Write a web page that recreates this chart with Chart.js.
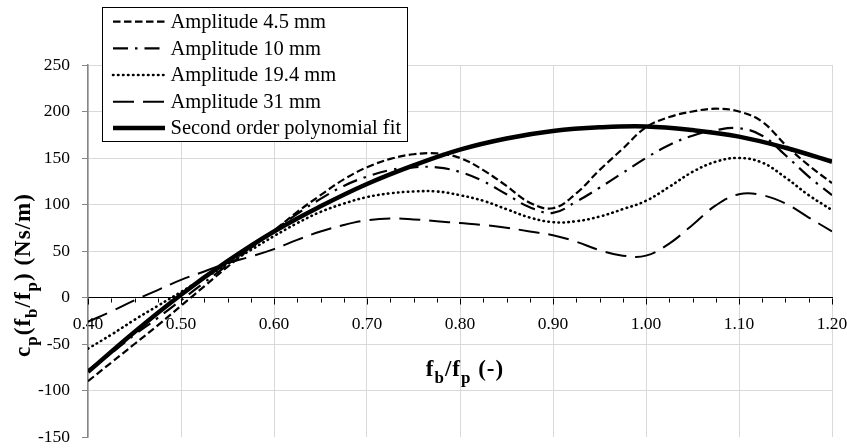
<!DOCTYPE html>
<html><head><meta charset="utf-8">
<script src="https://cdn.jsdelivr.net/npm/chart.js@4/dist/chart.umd.min.js"></script>
<style>html,body{margin:0;padding:0;background:#fff;} canvas{display:block;}</style>
</head><body>
<canvas id="c" width="847" height="448"></canvas>
<script>
// ---- data ----
const xAmp = [0.400,0.425,0.450,0.475,0.500,0.525,0.550,0.575,0.600,0.625,0.650,0.675,0.700,0.725,0.750,0.775,0.800,0.825,0.850,0.875,0.900,0.925,0.950,0.975,1.000,1.025,1.050,1.075,1.100,1.125,1.150,1.175,1.200];
const amp45  = [-90,-70,-50,-30,-9,12,33,53,72,92,110,127,140,149,154,155,150,137,120,102,96,112,137,160,183,194,200,203,200,189,164,142,123];
const amp10  = [-78,-60,-40,-22,-3,16,35,54,72,90,106,120,130,137,140,140,135,125,111,97,91,103,118,134,150,164,174,180,182,174,153,130,110];
const amp194 = [-55,-40,-24,-9,6,21,36,51,66,80,92,101,108,112,114,114,110,104,95,86,81,82,87,95,104,119,135,146,150,145,129,110,94];
const amp31  = [-26,-15,-3,8,19,28,37,44,52,62,71,78,83,85,84,82,80,78,75,71,67,60,51,45,45,58,78,99,111,110,101,86,71];
const xFit = [0.40,0.45,0.50,0.55,0.60,0.65,0.70,0.75,0.80,0.85,0.90,0.95,1.00,1.05,1.10,1.15,1.20];
const fit  = [-80,-37,3,39,71,98,122,142,159,171,179,183,184,180,173,161,146];
const seriesNames = ['Amplitude 4.5 mm','Amplitude 10 mm','Amplitude 19.4 mm','Amplitude 31 mm','Second order polynomial fit'];
const xMin = 0.4, xMax = 1.2, xStep = 0.1, xMinorStep = 0.025;
const yMin = -150, yMax = 250, yStep = 50;

// ---- styles ----
const SERIF = '"Liberation Serif", "DejaVu Serif", serif';
const styles = [
  {dash:[7.5,3.5], width:2.2, cap:'butt'},
  {dash:[15,7,2.5,7], width:2.2, cap:'butt'},
  {dash:[0.5,4.5], width:2.6, cap:'round'},
  {dash:[21,9], width:2, cap:'butt'},
  {dash:[], width:4.5, cap:'butt'}
];
const toPts = (xs, ys) => xs.map((x,i)=>({x:x, y:ys[i]}));
const seriesData = [toPts(xAmp,amp45), toPts(xAmp,amp10), toPts(xAmp,amp194), toPts(xAmp,amp31), toPts(xFit,fit)];

const datasets = seriesData.map((d,i)=>({
  label: seriesNames[i], data: d,
  borderColor:'#000', backgroundColor:'#000',
  borderWidth: styles[i].width, borderDash: styles[i].dash, borderCapStyle: styles[i].cap,
  pointRadius:0, tension:0.4, fill:false
}));

function richText(ctx, parts, size, bold, spacing) {
  const setF = (sub)=>{ ctx.font = (bold?'bold ':'') + (sub? Math.round(size*0.72):size) + 'px ' + SERIF; ctx.letterSpacing = spacing + 'px'; };
  const w = (t,sub)=>{ setF(sub); return ctx.measureText(t).width; };
  let total = 0; parts.forEach(p=> total += w(p[0],p[1]));
  return {total, draw:(x0,y0)=>{ let x=x0; parts.forEach(p=>{ const ww=w(p[0],p[1]); ctx.fillText(p[0], x, y0 + (p[1]? size*0.3:0)); x+=ww; }); }};
}

const decor = {
  id:'decor',
  afterDraw(chart){
    const ctx = chart.ctx, xs = chart.scales.x, ys = chart.scales.y;
    ctx.save();
    // minor/major ticks on x axis (axis crosses at y=0)
    const y0 = Math.round(ys.getPixelForValue(0)) + 0.5;
    ctx.strokeStyle = '#000'; ctx.lineWidth = 1;
    for (let k=0; k<=Math.round((xMax-xMin)/xMinorStep); k++){
      const v = xMin + k*xMinorStep;
      const px = Math.round(xs.getPixelForValue(v)) + 0.5;
      const major = (k % 4) === 0;
      ctx.beginPath(); ctx.moveTo(px, y0); ctx.lineTo(px, y0 + (major?6:4)); ctx.stroke();
    }
    // axis titles
    ctx.fillStyle = '#000'; ctx.textBaseline = 'alphabetic'; ctx.textAlign = 'left';
    const xt = richText(ctx, [['f',0],['b',1],['/f',0],['p',1],[' (-)',0]], 23, true, 1);
    xt.draw(465 - xt.total/2, 376);
    ctx.save();
    ctx.translate(30, 275); ctx.rotate(-Math.PI/2);
    const yt = richText(ctx, [['c',0],['p',1],['(f',0],['b',1],['/f',0],['p',1],[') (Ns/m)',0]], 23, true, 1);
    yt.draw(-yt.total/2, 0);
    ctx.restore();
    ctx.letterSpacing = '0px';
    // legend
    const L = 102.5, T = 7.5, W = 305, H = 134;
    ctx.fillStyle = '#fff'; ctx.fillRect(L, T, W, H);
    ctx.strokeStyle = '#000'; ctx.lineWidth = 1; ctx.setLineDash([]); ctx.strokeRect(L, T, W, H);
    const rows = [21.7, 48.3, 75, 101.7, 128];
    rows.forEach((ry,i)=>{
      const s = styles[i];
      ctx.save();
      ctx.strokeStyle = '#000'; ctx.lineWidth = s.width; ctx.lineCap = s.cap; ctx.setLineDash(s.dash);
      ctx.beginPath(); ctx.moveTo(113, ry); ctx.lineTo(165, ry); ctx.stroke();
      ctx.restore();
      ctx.fillStyle = '#000'; ctx.font = '20.5px ' + SERIF; ctx.textBaseline = 'middle'; ctx.textAlign='left';
      ctx.fillText(seriesNames[i], 170.5, ry + 1);
    });
    ctx.restore();
  }
};

new Chart(document.getElementById('c'), {
  type:'line',
  data:{ datasets },
  options:{
    responsive:false, animation:false, devicePixelRatio:1,
    layout:{ padding:{ left:0, top:65, right:15, bottom:11 } },
    plugins:{ legend:{display:false}, tooltip:{enabled:false} },
    scales:{
      x:{
        type:'linear', position:{ y:0 }, min:xMin, max:xMax,
        ticks:{ stepSize:xStep, callback:(v)=>Number(v).toFixed(2), font:{family:SERIF, size:17.5}, color:'#000', padding:10, maxRotation:0, autoSkip:false },
        grid:{ color:'#d9d9d9', lineWidth:1, drawTicks:true, tickLength:6, tickColor:'rgba(0,0,0,0)' },
        border:{ display:true, color:'#000', width:1 },
        afterFit:(s)=>{ s.paddingLeft = 0; s.paddingRight = 0; s.paddingTop = 0; s.paddingBottom = 0; }
      },
      y:{
        type:'linear', min:yMin, max:yMax,
        ticks:{ stepSize:yStep, font:{family:SERIF, size:17.5}, color:'#000', padding:12 },
        grid:{ color:(c)=> c.tick && c.tick.value===yMin ? 'rgba(0,0,0,0)' : '#d9d9d9', lineWidth:1, tickLength:6, tickColor:'#868686' },
        border:{ display:true, color:'#868686', width:1.5 },
        afterFit:(s)=>{ s.width = 88; s.paddingTop = 0; s.paddingBottom = 0; }
      }
    }
  },
  plugins:[decor]
});
</script>
</body></html>
